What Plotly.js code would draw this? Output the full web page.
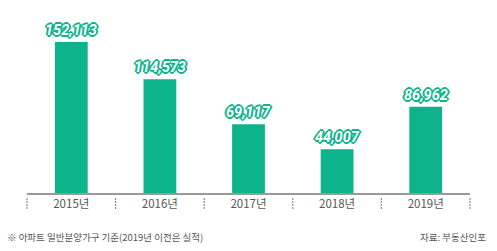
<!DOCTYPE html>
<html><head><meta charset="utf-8">
<script src="https://cdn.plot.ly/plotly-3.0.1.min.js"></script>
<style>html,body{margin:0;padding:0;background:#fff;}#chart{width:497px;height:251px;}</style>
</head><body><div id="chart"></div>
<script>
const categories = ['2015년','2016년','2017년','2018년','2019년'];
const values = [152113, 114573, 69117, 44007, 86962];
const labels = ['152,113','114,573','69,117','44,007','86,962'];
const note = '※ 아파트 일반분양가구 기준(2019년 이전은 실적)';
const source = '자료: 부동산인포';

const green = '#0db38a';
const idx = categories.map((c,i)=>i);

const outline = [[1,0],[-1,0],[0,1],[0,-1],[1,1],[-1,-1],[1,-1],[-1,1],[2,0],[-2,0],[0,2],[0,-2]]
  .map(p => p[0]+'px '+p[1]+'px 0 '+green).join(', ');

const annotations = idx.map(i => ({
  x: i, y: values[i], xref: 'x', yref: 'y', text: '<b><i>' + labels[i] + '</i></b>',
  showarrow: false, yanchor: 'bottom', yshift: 1,
  font: {family: 'Roboto, "Noto Sans", sans-serif', size: 14.5, color: '#ffffff', shadow: outline}
}));
annotations.push({x: 0, y: 0, xref: 'paper', yref: 'paper', xanchor: 'left', yanchor: 'middle', xshift: -22, yshift: -44,
  text: note, showarrow: false, font: {family: '"Noto Sans CJK KR", sans-serif', size: 9.5, color: '#555'}});
annotations.push({x: 1, y: 0, xref: 'paper', yref: 'paper', xanchor: 'right', yanchor: 'middle', xshift: 18, yshift: -44,
  text: source, showarrow: false, font: {family: '"Noto Sans CJK KR", sans-serif', size: 9.5, color: '#555'}});

const shapes = [];
for (let k = 0; k <= categories.length; k++) {
  shapes.push({type: 'line', xref: 'x domain', yref: 'paper', x0: k / categories.length, x1: k / categories.length,
    y0: -0.03, y1: -0.095, line: {color: '#666', width: 1.2, dash: '1.5px,1.5px'}});
}

const trace = {
  type: 'bar', x: idx, y: values, width: 0.37,
  marker: {color: green, line: {width: 0}},
  hoverinfo: 'none'
};

const layout = {
  width: 497, height: 251,
  margin: {l: 27, r: 27, t: 20, b: 58},
  paper_bgcolor: '#fff', plot_bgcolor: '#fff',
  showlegend: false,
  xaxis: {range: [-0.5, 4.5], tickvals: idx, ticktext: categories, showgrid: false, zeroline: false,
    showline: true, linecolor: '#9a9a9a', linewidth: 1.5, ticks: '',
    tickfont: {family: '"Noto Sans CJK KR", sans-serif', size: 11.5, color: '#555'}},
  yaxis: {range: [0, 174200], visible: false, showgrid: false, zeroline: false},
  annotations: annotations,
  shapes: shapes
};
Plotly.newPlot('chart', [trace], layout, {staticPlot: true, displayModeBar: false});
</script></body></html>
